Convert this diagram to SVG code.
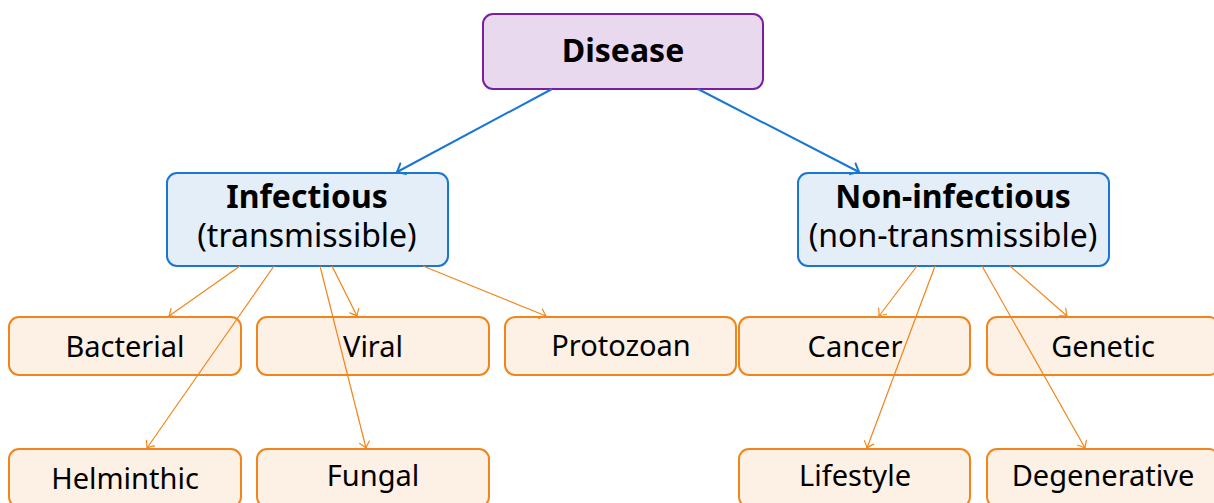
<svg xmlns="http://www.w3.org/2000/svg" width="1214" height="503" viewBox="0 0 1214 503">
<style>
.t{font-family:"Noto Sans","DejaVu Sans",sans-serif;fill:#000;text-anchor:middle}
.b{font-weight:bold;font-size:32px}
.r{font-size:32px}
.l{font-size:29px}
.root{fill:#E8D9EF;stroke:#7B1FA2;stroke-width:2}
.mid{fill:#E3EEF9;stroke:#1976D2;stroke-width:2}
.leaf{fill:#FDF0E4;stroke:#F0861B;stroke-width:2}
.cb{stroke:#1976D2;stroke-width:2;fill:none}
.co{stroke:#F0861B;stroke-width:1.2;fill:none}
</style>
<defs>
<marker id="ab" markerUnits="userSpaceOnUse" markerWidth="20" markerHeight="20" viewBox="-12 -10 14 20" refX="0" refY="0" orient="auto">
<path d="M-7 -6 Q-2 -1.5 0 0 Q-2 1.5 -7 6" fill="none" stroke="#1976D2" stroke-width="2" stroke-linecap="round"/>
</marker>
<marker id="ao" markerUnits="userSpaceOnUse" markerWidth="20" markerHeight="20" viewBox="-12 -10 14 20" refX="0" refY="0" orient="auto">
<path d="M-6 -5 Q-2 -1.2 0 0 Q-2 1.2 -6 5" fill="none" stroke="#F0861B" stroke-width="1.2" stroke-linecap="round"/>
</marker>
</defs>
<g id="disease">
<rect class="root" x="483" y="14" width="280" height="75" rx="10"/>
<text class="t b" x="623" y="62">Disease</text>
</g>
<g id="infectious">
<rect class="mid" x="167" y="173" width="281" height="93" rx="10"/>
<text class="t b" x="307" y="208">Infectious</text>
<text class="t r" x="307" y="247">(transmissible)</text>
</g>
<g id="noninfectious">
<rect class="mid" x="798" y="173" width="311" height="93" rx="10"/>
<text class="t b" x="953" y="208">Non-infectious</text>
<text class="t r" x="953" y="247">(non-transmissible)</text>
</g>
<g id="bacterial">
<rect class="leaf" x="9" y="317" width="232" height="58" rx="10"/>
<text class="t l" x="125" y="357">Bacterial</text>
</g>
<g id="viral">
<rect class="leaf" x="257" y="317" width="232" height="58" rx="10"/>
<text class="t l" x="373" y="357">Viral</text>
</g>
<g id="protozoan">
<rect class="leaf" x="505" y="317" width="231" height="58" rx="10"/>
<text class="t l" x="621" y="356">Protozoan</text>
</g>
<g id="cancer">
<rect class="leaf" x="739" y="317" width="231" height="58" rx="10"/>
<text class="t l" x="855" y="357">Cancer</text>
</g>
<g id="genetic">
<rect class="leaf" x="987" y="317" width="232" height="58" rx="10"/>
<text class="t l" x="1103" y="357">Genetic</text>
</g>
<g id="helminthic">
<rect class="leaf" x="9" y="449" width="232" height="58" rx="10"/>
<text class="t l" x="125" y="489">Helminthic</text>
</g>
<g id="fungal">
<rect class="leaf" x="257" y="449" width="232" height="58" rx="10"/>
<text class="t l" x="373" y="486">Fungal</text>
</g>
<g id="lifestyle">
<rect class="leaf" x="739" y="449" width="231" height="58" rx="10"/>
<text class="t l" x="855" y="486">Lifestyle</text>
</g>
<g id="degenerative">
<rect class="leaf" x="987" y="449" width="232" height="58" rx="10"/>
<text class="t l" x="1103" y="486">Degenerative</text>
</g>
<g id="connectors">
<line class="cb" x1="552" y1="89" x2="397" y2="172" marker-end="url(#ab)"/>
<line class="cb" x1="698" y1="89" x2="859" y2="172" marker-end="url(#ab)"/>
<line class="co" x1="240" y1="266" x2="169" y2="316" marker-end="url(#ao)"/>
<line class="co" x1="274" y1="266" x2="147" y2="448" marker-end="url(#ao)"/>
<line class="co" x1="320" y1="266" x2="366" y2="448" marker-end="url(#ao)"/>
<line class="co" x1="332" y1="266" x2="357" y2="316" marker-end="url(#ao)"/>
<line class="co" x1="423" y1="266" x2="546" y2="316" marker-end="url(#ao)"/>
<line class="co" x1="917" y1="266" x2="879" y2="316" marker-end="url(#ao)"/>
<line class="co" x1="935" y1="266" x2="867" y2="448" marker-end="url(#ao)"/>
<line class="co" x1="982" y1="266" x2="1085" y2="448" marker-end="url(#ao)"/>
<line class="co" x1="1010" y1="266" x2="1067" y2="316" marker-end="url(#ao)"/>
</g>
</svg>
